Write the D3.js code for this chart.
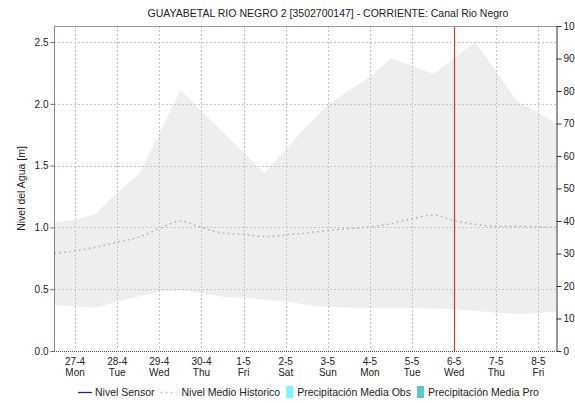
<!DOCTYPE html>
<html>
<head>
<meta charset="utf-8">
<script src="https://cdn.jsdelivr.net/npm/d3@7"></script>
<style>
  html, body { margin: 0; padding: 0; background: #fff; }
  svg { display: block; }
  text { font-family: "Liberation Sans", Arial, sans-serif; fill: #222; }
</style>
</head>
<body>
<svg id="chart" width="575" height="403"></svg>
<script>
// Station water level: historical band, historical mean, sensor & rainfall legend
const title = "GUAYABETAL RIO NEGRO 2 [3502700147] - CORRIENTE: Canal Rio Negro";

const dayTimes  = ["2020-04-27T00:00","2020-04-28T00:00","2020-04-29T00:00","2020-04-30T00:00",
                   "2020-05-01T00:00","2020-05-02T00:00","2020-05-03T00:00","2020-05-04T00:00",
                   "2020-05-05T00:00","2020-05-06T00:00","2020-05-07T00:00","2020-05-08T00:00"];
const dayLabels = ["27-4","28-4","29-4","30-4","1-5","2-5","3-5","4-5","5-5","6-5","7-5","8-5"];
const dayNames  = ["Mon","Tue","Wed","Thu","Fri","Sat","Sun","Mon","Tue","Wed","Thu","Fri"];

const levelTicks = [0.0, 0.5, 1.0, 1.5, 2.0, 2.5];
const rainTicks  = [0, 10, 20, 30, 40, 50, 60, 70, 80, 90, 100];

// Historical maximum level (upper edge of the band)
const maxTimes  = ["2020-04-26T12:00","2020-04-27T00:00","2020-04-27T12:00","2020-04-28T00:00",
                   "2020-04-28T13:00","2020-04-29T12:00","2020-05-01T12:00","2020-05-02T00:00",
                   "2020-05-02T12:00","2020-05-03T00:00","2020-05-03T12:00","2020-05-04T00:00",
                   "2020-05-04T12:00","2020-05-05T00:00","2020-05-05T12:00","2020-05-06T00:00",
                   "2020-05-06T12:00","2020-05-07T12:00","2020-05-08T00:00","2020-05-08T10:00"];
const maxLevels = [1.04, 1.06, 1.11, 1.28, 1.44, 2.11, 1.44, 1.63, 1.82, 1.99,
                   2.11, 2.22, 2.37, 2.31, 2.24, 2.37, 2.50, 2.02, 1.93, 1.84];

// Historical minimum level (lower edge of the band)
const minTimes  = ["2020-04-26T12:00","2020-04-27T00:00","2020-04-27T12:00","2020-04-28T00:00",
                   "2020-04-29T00:00","2020-04-29T12:00","2020-04-30T00:00","2020-04-30T12:00",
                   "2020-05-01T00:00","2020-05-02T00:00","2020-05-02T18:00","2020-05-04T00:00",
                   "2020-05-05T00:00","2020-05-06T00:00","2020-05-07T00:00","2020-05-07T12:00",
                   "2020-05-08T00:00","2020-05-08T10:00"];
const minLevels = [0.37, 0.36, 0.35, 0.40, 0.48, 0.49, 0.47, 0.44, 0.43, 0.40,
                   0.36, 0.345, 0.345, 0.34, 0.31, 0.30, 0.305, 0.32];

// Historical mean level
const meanTimes  = ["2020-04-26T12:00","2020-04-27T00:00","2020-04-27T12:00","2020-04-28T00:00",
                    "2020-04-28T12:00","2020-04-29T00:00","2020-04-29T12:00","2020-04-30T00:00",
                    "2020-04-30T12:00","2020-05-01T00:00","2020-05-01T12:00","2020-05-02T00:00",
                    "2020-05-02T12:00","2020-05-03T00:00","2020-05-03T12:00","2020-05-04T00:00",
                    "2020-05-04T12:00","2020-05-05T00:00","2020-05-05T12:00","2020-05-06T00:00",
                    "2020-05-06T12:00","2020-05-07T00:00","2020-05-07T12:00","2020-05-08T00:00",
                    "2020-05-08T10:00"];
const meanLevels = [0.79, 0.81, 0.84, 0.88, 0.92, 0.99, 1.05, 1.00, 0.955, 0.945,
                    0.925, 0.94, 0.955, 0.975, 0.99, 1.005, 1.03, 1.07, 1.10, 1.055,
                    1.025, 1.01, 1.01, 1.005, 1.00];

const currentTime = "2020-05-06T00:00";
const domainStart = "2020-04-26T12:00";
const domainEnd   = "2020-05-08T10:00";

const legendItems = [
  { label: "Nivel Sensor", kind: "line" },
  { label: "Nivel Medio Historico", kind: "dots" },
  { label: "Precipitación Media Obs", kind: "rectObs" },
  { label: "Precipitación Media Pro", kind: "rectPro" }
];

const parse = d3.timeParse("%Y-%m-%dT%H:%M");
const svg = d3.select("#chart");

const plot = { left: 54, right: 556, top: 26, bottom: 351 };

const x = d3.scaleTime()
  .domain([parse(domainStart), parse(domainEnd)])
  .range([plot.left, plot.right]);
const y = d3.scaleLinear().domain([0, 2.63]).range([plot.bottom, plot.top]);
const yRain = d3.scaleLinear().domain([0, 100]).range([plot.bottom, plot.top]);

// Title
svg.append("text")
  .attr("x", 328).attr("y", 17)
  .attr("text-anchor", "middle")
  .style("font-size", "10.5px")
  .text(title);

// Historical min–max band
const upper = maxTimes.map((t, i) => [x(parse(t)), y(maxLevels[i])]);
const lower = minTimes.map((t, i) => [x(parse(t)), y(minLevels[i])]).reverse();
svg.append("path")
  .attr("d", d3.line()(upper.concat(lower)) + "Z")
  .attr("fill", "#eeeeee");

// Gridlines
const grid = svg.append("g").attr("stroke", "#c4c4c4").attr("stroke-dasharray", "2,2").attr("stroke-width", 1);
grid.selectAll("line.v").data(dayTimes).join("line")
  .attr("class", "v")
  .attr("x1", d => Math.round(x(parse(d))) + 0.5).attr("x2", d => Math.round(x(parse(d))) + 0.5)
  .attr("y1", plot.top).attr("y2", plot.bottom);
grid.selectAll("line.h").data(levelTicks.filter(v => v > 0)).join("line")
  .attr("class", "h")
  .attr("x1", plot.left).attr("x2", plot.right)
  .attr("y1", d => Math.round(y(d)) + 0.5).attr("y2", d => Math.round(y(d)) + 0.5);

// Historical mean (dotted)
svg.append("path")
  .datum(meanTimes.map((t, i) => [parse(t), meanLevels[i]]))
  .attr("d", d3.line().x(d => x(d[0])).y(d => y(d[1])).curve(d3.curveMonotoneX))
  .attr("fill", "none")
  .attr("stroke", "#bdbdbd")
  .attr("stroke-width", 1.6)
  .attr("stroke-dasharray", "2,3");

// Current time marker
svg.append("line")
  .attr("x1", Math.round(x(parse(currentTime))) + 0.5).attr("x2", Math.round(x(parse(currentTime))) + 0.5)
  .attr("y1", plot.top).attr("y2", plot.bottom)
  .attr("stroke", "#c8403a").attr("stroke-width", 1.2);

// Frame
svg.append("line").attr("x1", plot.left).attr("x2", plot.right)
  .attr("y1", plot.top + 0.5).attr("y2", plot.top + 0.5).attr("stroke", "#9a9a9a");
svg.append("line").attr("x1", plot.left).attr("x2", plot.right)
  .attr("y1", plot.bottom + 0.5).attr("y2", plot.bottom + 0.5)
  .attr("stroke", "#555").attr("stroke-dasharray", "1,1");

// Left axis (water level)
const leftAxis = svg.append("g")
  .attr("transform", `translate(${plot.left + 0.5},0)`)
  .call(d3.axisLeft(y).tickValues(levelTicks).tickFormat(d3.format(".1f")).tickSize(4).tickSizeOuter(0));
leftAxis.select(".domain").attr("stroke", "#888").attr("d", `M0,${plot.top}V${plot.bottom}`);
leftAxis.selectAll(".tick line").attr("stroke", "#666");
leftAxis.selectAll(".tick text").attr("x", -6).style("font-size", "10px")
  .style("font-family", "'Liberation Sans', Arial, sans-serif").attr("fill", "#222");

// Right axis (rainfall)
const rightAxis = svg.append("g")
  .attr("transform", `translate(${plot.right + 0.5},0)`)
  .call(d3.axisRight(yRain).tickValues(rainTicks).tickSize(5).tickSizeOuter(0));
rightAxis.select(".domain").attr("stroke", "#333");
rightAxis.selectAll(".tick line").attr("stroke", "#333");
rightAxis.selectAll(".tick text").attr("x", 7).style("font-size", "10px")
  .style("font-family", "'Liberation Sans', Arial, sans-serif").attr("fill", "#222");

// Bottom labels: date and weekday
const xl = svg.append("g").style("font-size", "10px").attr("text-anchor", "middle");
xl.selectAll("text.d").data(dayTimes).join("text")
  .attr("class", "d")
  .attr("x", d => x(parse(d))).attr("y", 365)
  .text((d, i) => dayLabels[i]);
xl.selectAll("text.w").data(dayTimes).join("text")
  .attr("class", "w")
  .attr("x", d => x(parse(d))).attr("y", 376)
  .text((d, i) => dayNames[i]);

// Y axis title
svg.append("text")
  .attr("transform", `translate(25,${(plot.top + plot.bottom) / 2}) rotate(-90)`)
  .attr("text-anchor", "middle")
  .style("font-size", "10.5px")
  .text("Nivel del Agua [m]");

// Legend
const legend = svg.append("g").style("font-size", "10.5px");
let lx = 78;
const ly = 392;
legendItems.forEach(item => {
  if (item.kind === "line") {
    legend.append("line").attr("x1", lx).attr("x2", lx + 14).attr("y1", ly + 0.5).attr("y2", ly + 0.5)
      .attr("stroke", "#1d2a8a").attr("stroke-width", 1.3);
    lx += 17;
  } else if (item.kind === "dots") {
    legend.append("line").attr("x1", lx).attr("x2", lx + 16).attr("y1", ly + 0.5).attr("y2", ly + 0.5)
      .attr("stroke", "#c4c4c4").attr("stroke-width", 1.3).attr("stroke-dasharray", "2,3");
    lx += 21;
  } else {
    legend.append("rect").attr("x", lx).attr("y", ly - 6).attr("width", 7).attr("height", 12)
      .attr("fill", item.kind === "rectObs" ? "#7ff3f6" : "#5cc6c6");
    lx += 11;
  }
  const t = legend.append("text").attr("x", lx).attr("y", ly + 4).text(item.label);
  lx += t.node().getComputedTextLength() + 6;
});
</script>
</body>
</html>
